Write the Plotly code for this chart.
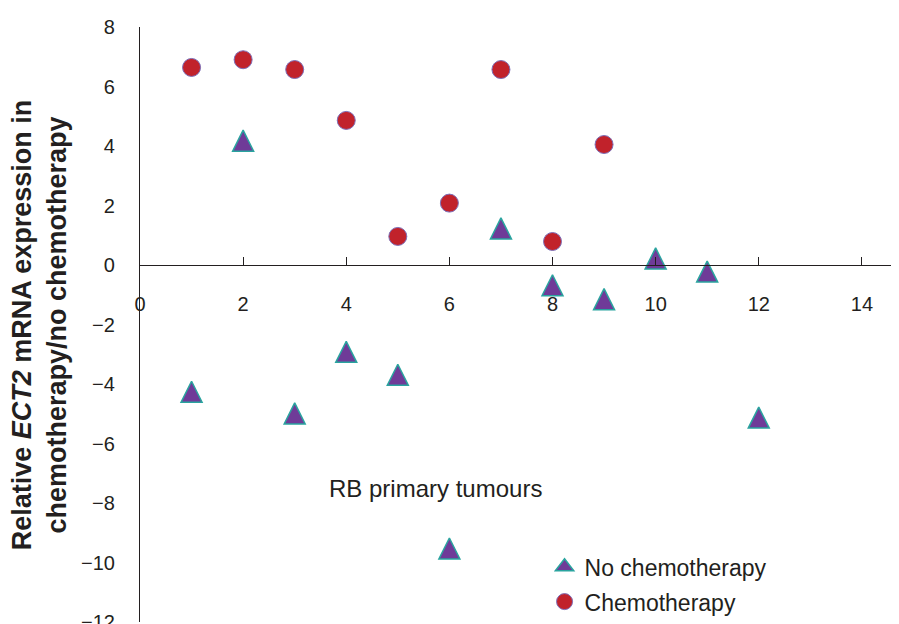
import plotly.graph_objects as go

# Data
chemo_x = [1, 2, 3, 4, 5, 6, 7, 8, 9]
chemo_y = [6.64, 6.9, 6.57, 4.86, 0.96, 2.08, 6.57, 0.79, 4.05]

nochemo_x = [1, 2, 3, 4, 5, 6, 7, 8, 9, 10, 11, 12]
nochemo_y = [-4.26, 4.18, -4.99, -2.92, -3.69, -9.53, 1.23, -0.68, -1.15, 0.22, -0.22, -5.13]

x_ticks = [0, 2, 4, 6, 8, 10, 12, 14]
y_ticks = [-12, -10, -8, -6, -4, -2, 0, 2, 4, 6, 8]

FONT = "Arial, Liberation Sans, sans-serif"
TXT = "#231f20"
TRI_FILL, TRI_LINE = "#6f3b98", "#2aa49f"
CIR_FILL, CIR_LINE = "#c1222b", "#7d6fb8"

fig = go.Figure()
tri_size = 21
fig.add_trace(go.Scatter(
    x=nochemo_x, y=nochemo_y, mode="markers", name="No chemotherapy",
    showlegend=False,
    marker=dict(symbol="arrow-down", angle=180, standoff=tri_size / 2,
                size=tri_size, color=TRI_FILL,
                line=dict(color=TRI_LINE, width=1.5)),
))
fig.add_trace(go.Scatter(
    x=chemo_x, y=chemo_y, mode="markers", name="Chemotherapy",
    showlegend=False,
    marker=dict(symbol="circle", size=18, color=CIR_FILL,
                line=dict(color=CIR_LINE, width=1)),
))
# legend entries
fig.add_trace(go.Scatter(
    x=[None], y=[None], mode="markers", name="No chemotherapy",
    legendgroup="a",
    marker=dict(symbol="triangle-up", size=16, color=TRI_FILL,
                line=dict(color=TRI_LINE, width=1.5)),
))
fig.add_trace(go.Scatter(
    x=[None], y=[None], mode="markers", name="Chemotherapy",
    legendgroup="b",
    marker=dict(symbol="circle", size=16, color=CIR_FILL,
                line=dict(color=CIR_LINE, width=1)),
))

fig.update_layout(
    width=891, height=616,
    margin=dict(l=132, r=0, t=19, b=2, autoexpand=False),
    paper_bgcolor="white", plot_bgcolor="white",
    font=dict(family=FONT, size=20, color=TXT),
    showlegend=True,
    legend=dict(x=0.533, y=0.129, xanchor="left", yanchor="top",
                font=dict(size=23, color=TXT), bgcolor="rgba(0,0,0,0)",
                tracegroupgap=2, traceorder="grouped", itemsizing="trace"),
    xaxis=dict(range=[0, 14.72], tickvals=x_ticks, ticks="inside", ticklen=8,
               tickcolor="#231f20", tickwidth=1.2, showline=True,
               linecolor="#231f20", linewidth=1.2, showgrid=False,
               zeroline=False, anchor="free", position=0.6, automargin=False,
               ticklabelstandoff=21, tickfont=dict(size=20, color=TXT)),
    yaxis=dict(range=[-12, 8], tickvals=y_ticks, ticks="", showline=True,
               linecolor="#231f20", linewidth=1.2, showgrid=False,
               zeroline=False, ticklabelstandoff=20, ticklabeloverflow="allow",
               automargin=False,
               tickfont=dict(size=20, color=TXT),
               tickformat="d"),
    annotations=[
        dict(x=5.74, y=-7.5, xref="x", yref="y", text="RB primary tumours",
             showarrow=False, font=dict(size=24, color=TXT)),
        dict(x=-0.132, y=0.5, xref="paper", yref="paper", textangle=-90,
             xanchor="center", yanchor="middle",
             text="<b>Relative <i>ECT2</i> mRNA expression in<br>chemotherapy/no chemotherapy</b>",
             showarrow=False, font=dict(size=27, color=TXT)),
    ],
)

fig.write_html("out.html")
